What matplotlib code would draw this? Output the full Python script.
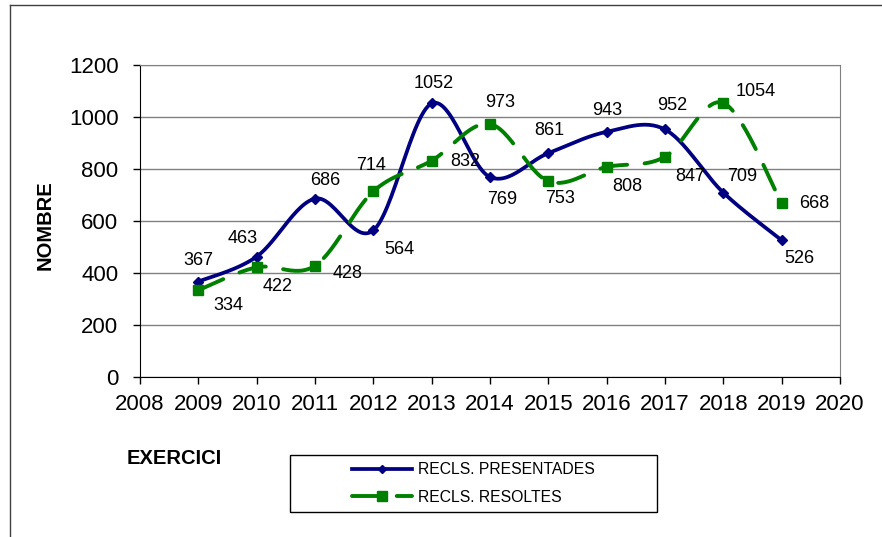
import matplotlib
matplotlib.use("Agg")
import matplotlib.pyplot as plt
from matplotlib.lines import Line2D
from matplotlib.patches import Rectangle
import numpy as np

plt.rcParams["font.family"] = ["Liberation Sans", "DejaVu Sans"]

years = [2009, 2010, 2011, 2012, 2013, 2014, 2015, 2016, 2017, 2018, 2019]
presentades = [367, 463, 686, 564, 1052, 769, 861, 943, 952, 709, 526]
resoltes = [334, 422, 428, 714, 832, 973, 753, 808, 847, 1054, 668]
label_pres = "RECLS. PRESENTADES"
label_res = "RECLS. RESOLTES"

# label offsets in points (dx, dy)
off_pres = [(0, 15.5), (-10, 13.4), (7.6, 13.4), (18.7, -14), (1.8, 14.4), (8.6, -16.5),
            (0.7, 16.5), (0.7, 15), (5, 17), (13.7, 11.5), (13, -13)]
off_res = [(21.6, -10.8), (15, -14), (23.8, -5.6), (-1.8, 18.3), (24.5, -0.5), (7.2, 15.5),
           (8.6, -12.3), (15, -14), (18, -14.5), (23.4, 8.2), (23.8, 0)]


def smooth(x, y, n=30):
    # Catmull-Rom style curve (Excel "smoothed line")
    x = np.asarray(x, float)
    y = np.asarray(y, float)
    px = np.concatenate([[x[0]], x, [x[-1]]])
    py = np.concatenate([[y[0]], y, [y[-1]]])
    xs, ys = [], []
    for i in range(1, len(px) - 2):
        p0 = np.array([px[i], py[i]])
        p3 = np.array([px[i + 1], py[i + 1]])
        c1 = p0 + (p3 - np.array([px[i - 1], py[i - 1]])) / 6
        c2 = p3 - (np.array([px[i + 2], py[i + 2]]) - p0) / 6
        t = np.linspace(0, 1, n)[:, None]
        pts = (1 - t) ** 3 * p0 + 3 * (1 - t) ** 2 * t * c1 + 3 * (1 - t) * t ** 2 * c2 + t ** 3 * p3
        if i > 1:
            pts = pts[1:]
        xs.append(pts[:, 0])
        ys.append(pts[:, 1])
    return np.concatenate(xs), np.concatenate(ys)


W, H = 882, 537
fig = plt.figure(figsize=(W / 100, H / 100), dpi=100)
ax = fig.add_axes([140 / W, 1 - 377 / H, 700 / W, 312 / H])

navy = "#000080"
green = "#008000"
dash = (0, (7, 4.5))

sx, sy = smooth(years, presentades)
ax.plot(sx, sy, color=navy, lw=2.7, zorder=3)
ax.plot(years, presentades, ls="none", marker="D", ms=5, color=navy, zorder=4)

gx, gy = smooth(years, resoltes)
ax.plot(gx, gy, color=green, lw=2.8, ls=dash, dash_capstyle="round", zorder=3)
ax.plot(years, resoltes, ls="none", marker="s", ms=7.5, color=green, zorder=4)

for x, v, (dx, dy) in zip(years, presentades, off_pres):
    ax.annotate(str(v), (x, v), xytext=(dx, dy), textcoords="offset points",
                ha="center", va="center", fontsize=13, zorder=5)
for x, v, (dx, dy) in zip(years, resoltes, off_res):
    ax.annotate(str(v), (x, v), xytext=(dx, dy), textcoords="offset points",
                ha="center", va="center", fontsize=13, zorder=5)

ax.set_xlim(2008, 2020)
ax.set_ylim(0, 1200)
ax.set_xticks(range(2008, 2021))
ax.set_yticks(range(0, 1201, 200))
ax.tick_params(labelsize=16, length=5, width=1, direction="out")
ax.tick_params(axis="x", pad=7)
ax.tick_params(axis="y", pad=10.5)
ax.yaxis.grid(True, color="#808080", lw=1)
ax.set_axisbelow(True)
ax.spines["top"].set_color("#808080")
ax.spines["right"].set_color("#808080")
ax.spines["left"].set_color("black")
ax.spines["bottom"].set_color("black")

fig.text(45 / W, 1 - 225 / H, "NOMBRE", rotation=90, ha="center", va="center",
         fontsize=14.5, fontweight="bold")
fig.text(127 / W, 1 - 458 / H, "EXERCICI", ha="left", va="center",
         fontsize=14.5, fontweight="bold")

# legend box
fig.add_artist(Rectangle((290 / W, 1 - 512 / H), 367 / W, 57 / H, fill=False,
                         edgecolor="black", lw=1, transform=fig.transFigure))
handles = [
    Line2D([], [], color=navy, lw=2.7, marker="D", ms=4.5),
    Line2D([], [], color=green, lw=2.8, ls=dash, dash_capstyle="round", marker="s", ms=7),
]
fig.legend(handles, [label_pres, label_res], loc="upper left",
           bbox_to_anchor=(352 / W, 1 - 462 / H), fontsize=11.3, frameon=False,
           handlelength=3.8, borderpad=0, labelspacing=0.8,
           borderaxespad=0, handletextpad=0.4)

# outer chart frame
fig.add_artist(Line2D([10 / W, 10 / W], [0, 1 - 5 / H], color="#404040", lw=1,
                      transform=fig.transFigure))
fig.add_artist(Line2D([10 / W, 1], [1 - 5 / H, 1 - 5 / H], color="#404040", lw=1,
                      transform=fig.transFigure))

fig.savefig("out.png", dpi=100)
